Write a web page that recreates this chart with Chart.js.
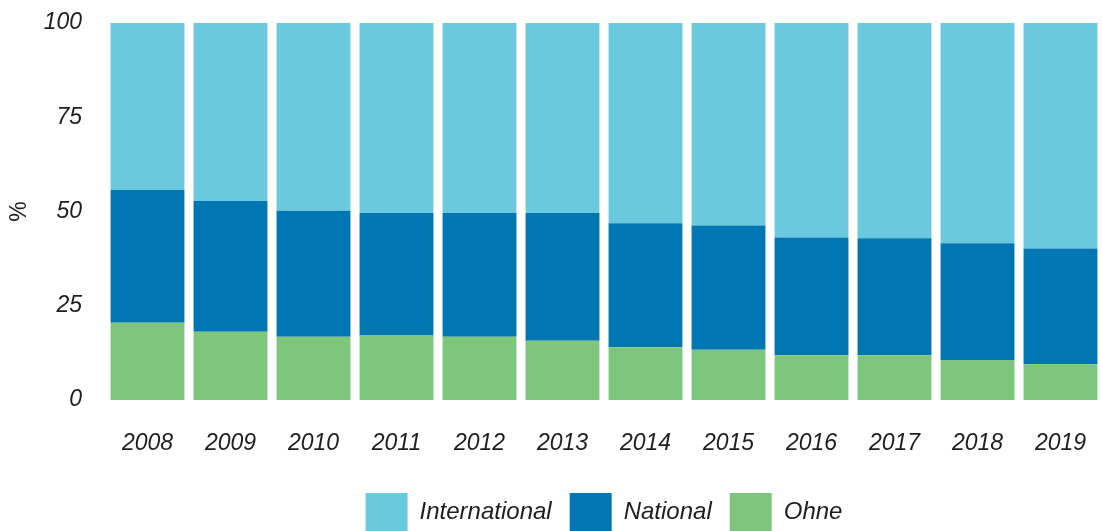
<!DOCTYPE html>
<html>
<head>
<meta charset="utf-8">
<script src="https://cdn.jsdelivr.net/npm/chart.js@4"></script>
<style>
html,body{margin:0;padding:0;background:#fff;}
#wrap{width:1102px;height:531px;}
</style>
</head>
<body>
<div id="wrap"><canvas id="c" width="1102" height="531"></canvas></div>
<script>
const years = ['2008','2009','2010','2011','2012','2013','2014','2015','2016','2017','2018','2019'];
const ohne = [20.5, 18.1, 16.8, 17.1, 16.8, 15.7, 14.0, 13.3, 11.9, 11.9, 10.6, 9.5];
const national = [35.2, 34.7, 33.4, 32.5, 32.8, 33.9, 32.9, 33.0, 31.2, 31.0, 31.0, 30.7];
const international = [44.3, 47.2, 49.8, 50.4, 50.4, 50.4, 53.1, 53.7, 56.9, 57.1, 58.4, 59.8];
const yTicks = [0, 25, 50, 75, 100];

const FONT = "'Liberation Sans', Arial, sans-serif";
const TXT = '#1e1e1e';

new Chart(document.getElementById('c'), {
  type: 'bar',
  data: {
    labels: years,
    datasets: [
      {label: 'Ohne', data: ohne, backgroundColor: '#7ec67c'},
      {label: 'National', data: national, backgroundColor: '#0077b2'},
      {label: 'International', data: international, backgroundColor: '#6bc9de'}
    ]
  },
  options: {
    responsive: false,
    animation: false,
    layout: {padding: {top: 23, right: 0, left: 0, bottom: -10}},
    datasets: {bar: {barPercentage: 0.89, categoryPercentage: 1.0, borderWidth: 0}},
    plugins: {
      tooltip: {enabled: false},
      legend: {
        position: 'bottom',
        fullSize: false,
        reverse: true,
        labels: {
          boxWidth: 42,
          boxHeight: 38,
          padding: 18,
          color: TXT,
          font: {family: FONT, size: 24, style: 'italic'}
        }
      }
    },
    scales: {
      x: {
        stacked: true,
        grid: {display: false},
        border: {display: false},
        afterFit: (s) => { s.height = 75; s.paddingLeft = 0; s.paddingRight = 0; },
        ticks: {color: TXT, padding: 22, font: {family: FONT, size: 23, style: 'italic'}, maxRotation: 0}
      },
      y: {
        stacked: true,
        min: 0, max: 100,
        grid: {display: false},
        border: {display: false},
        afterBuildTicks: (s) => { s.ticks = yTicks.map(v => ({value: v})); },
        afterFit: (s) => { s.width = 106; s.paddingTop = 0; s.paddingBottom = 0; },
        ticks: {color: TXT, padding: 16, font: {family: FONT, size: 23, style: 'italic'}},
        title: {display: true, text: '%', color: TXT, padding: {top: 6, bottom: 0}, font: {family: FONT, size: 23}}
      }
    }
  }
});
</script>
</body>
</html>
